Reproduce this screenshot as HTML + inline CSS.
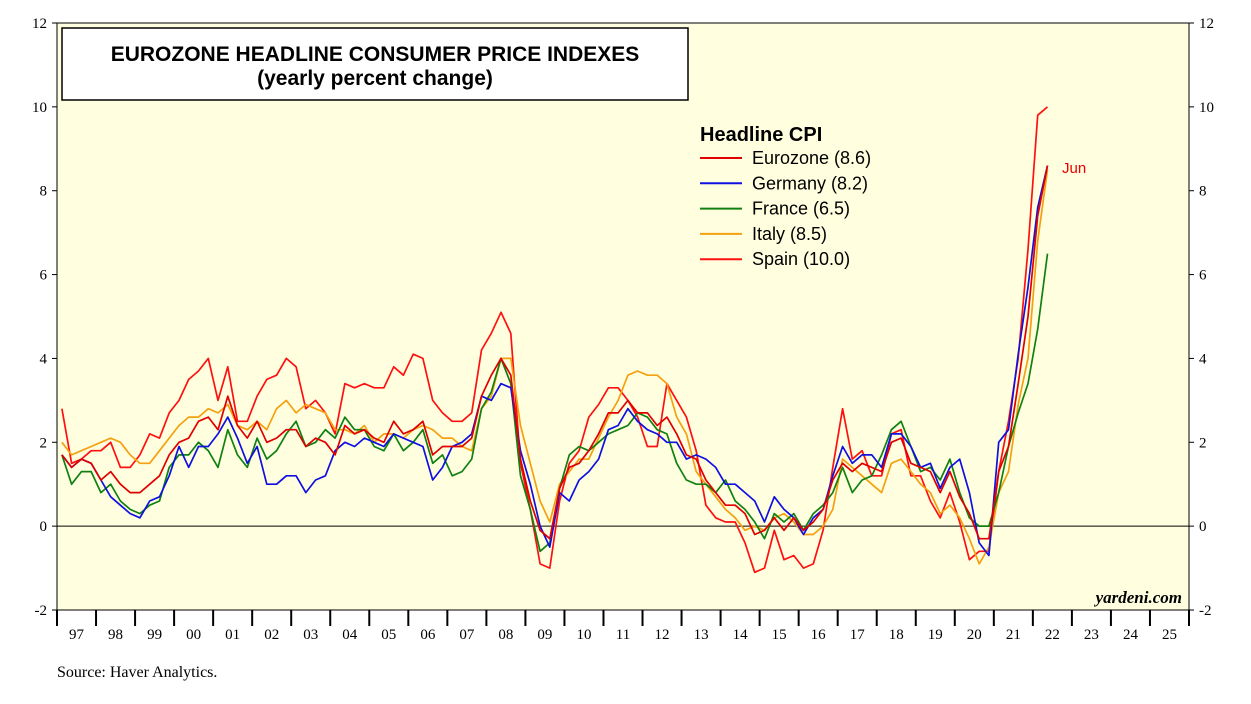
<!DOCTYPE html>
<html><head><meta charset="utf-8"><style>
body{margin:0;background:#fff;width:1251px;height:699px;overflow:hidden}
svg text{font-family:"Liberation Serif",serif}
</style></head><body>
<svg id="c" width="1251" height="699">
<rect x="57" y="23" width="1132" height="587" fill="#ffffe0" stroke="#000" stroke-width="1"/>
<g id="axes"></g>
<g id="series"></g>
<g>
<rect x="62" y="28" width="626" height="72" fill="#fff" stroke="#000" stroke-width="1.5"/>
<text x="375" y="61" text-anchor="middle" style="font-family:'Liberation Sans',sans-serif;font-weight:bold;font-size:21px">EUROZONE HEADLINE CONSUMER PRICE INDEXES</text>
<text x="375" y="85" text-anchor="middle" style="font-family:'Liberation Sans',sans-serif;font-weight:bold;font-size:21px">(yearly percent change)</text>
</g>
<g id="legend">
<text x="700" y="141" style="font-family:'Liberation Sans',sans-serif;font-weight:bold;font-size:20px">Headline CPI</text>
</g>
<text x="1062" y="173" fill="#e00" style="font-family:'Liberation Sans',sans-serif;font-size:15px">Jun</text>
<text x="1182" y="603" text-anchor="end" style="font-style:italic;font-weight:bold;font-size:17px">yardeni.com</text>
<text x="57" y="677" style="font-size:16px">Source: Haver Analytics.</text>
</svg>
<script>
const yTicks=[-2,0,2,4,6,8,10,12];
const years=["97","98","99","00","01","02","03","04","05","06","07","08","09","10","11","12","13","14","15","16","17","18","19","20","21","22","23","24","25"];
const seriesNames=["Eurozone (8.6)","Germany (8.2)","France (6.5)","Italy (8.5)","Spain (10.0)"];
const seriesColors=["#e00000","#1010e0","#108010","#f5a010","#ff1010"];
const eurozone=[1.7,1.4,1.6,1.5,1.1,1.3,1.0,0.8,0.8,1.0,1.2,1.7,2.0,2.1,2.5,2.6,2.3,3.1,2.4,2.1,2.5,2.0,2.1,2.3,2.3,1.9,2.1,2.0,1.7,2.4,2.2,2.3,2.1,2.0,2.5,2.2,2.3,2.5,1.7,1.9,1.9,1.9,2.1,3.1,3.6,4.0,3.6,1.6,0.6,-0.1,-0.3,0.9,1.4,1.5,1.8,2.2,2.7,2.7,3.0,2.7,2.7,2.4,2.6,2.2,1.7,1.6,1.1,0.8,0.5,0.5,0.3,-0.2,-0.1,0.2,-0.1,0.2,-0.1,0.1,0.4,1.1,1.5,1.3,1.5,1.4,1.3,2.0,2.1,1.5,1.4,1.3,0.8,1.3,0.7,0.3,-0.3,-0.3,1.3,1.9,3.4,5.0,7.4,8.6];
const germany=[1.7,1.4,1.6,1.5,1.1,0.7,0.5,0.3,0.2,0.6,0.7,1.2,1.9,1.4,1.9,1.9,2.2,2.6,2.1,1.5,1.9,1.0,1.0,1.2,1.2,0.8,1.1,1.2,1.8,2.0,1.9,2.1,2.0,1.9,2.2,2.1,2.0,1.9,1.1,1.4,1.9,2.0,2.2,3.1,3.0,3.4,3.3,1.8,1.0,0.0,-0.5,0.8,0.6,1.1,1.3,1.6,2.3,2.4,2.8,2.5,2.3,2.2,2.0,2.0,1.6,1.7,1.6,1.4,1.0,1.0,0.8,0.6,0.1,0.7,0.4,0.2,-0.2,0.2,0.4,1.2,1.9,1.5,1.7,1.7,1.4,2.2,2.2,1.9,1.4,1.5,0.9,1.4,1.6,0.8,-0.4,-0.7,2.0,2.3,4.1,5.7,7.6,8.6];
const france=[1.7,1.0,1.3,1.3,0.8,1.0,0.6,0.4,0.3,0.5,0.6,1.4,1.7,1.7,2.0,1.8,1.4,2.3,1.7,1.4,2.1,1.6,1.8,2.2,2.5,1.9,2.0,2.3,2.1,2.6,2.3,2.3,1.9,1.8,2.2,1.8,2.0,2.3,1.5,1.7,1.2,1.3,1.6,2.8,3.2,4.0,3.4,1.2,0.4,-0.6,-0.4,0.9,1.7,1.9,1.8,2.0,2.2,2.3,2.4,2.7,2.6,2.3,2.2,1.5,1.1,1.0,1.0,0.8,1.1,0.6,0.4,0.1,-0.3,0.3,0.1,0.3,-0.1,0.3,0.5,0.8,1.4,0.8,1.1,1.2,1.7,2.3,2.5,1.9,1.3,1.4,1.1,1.6,0.8,0.2,0.0,0.0,0.8,1.9,2.7,3.4,4.7,6.5];
const italy=[2.0,1.7,1.8,1.9,2.0,2.1,2.0,1.7,1.5,1.5,1.8,2.1,2.4,2.6,2.6,2.8,2.7,2.9,2.4,2.3,2.5,2.3,2.8,3.0,2.7,2.9,2.8,2.7,2.3,2.3,2.2,2.4,2.0,2.2,2.2,2.1,2.3,2.4,2.3,2.1,2.1,1.9,1.8,2.8,3.1,4.0,4.0,2.4,1.5,0.6,0.1,1.0,1.3,1.6,1.6,2.1,2.6,3.0,3.6,3.7,3.6,3.6,3.4,2.6,2.2,1.3,1.0,0.7,0.4,0.2,-0.1,0.0,-0.1,0.2,0.3,0.1,-0.2,-0.2,0.0,0.4,1.6,1.4,1.2,1.0,0.8,1.5,1.6,1.3,1.0,0.8,0.3,0.5,0.2,-0.3,-0.9,-0.5,0.8,1.3,2.9,4.0,6.8,8.5];
const spain=[2.8,1.5,1.6,1.8,1.8,2.0,1.4,1.4,1.7,2.2,2.1,2.7,3.0,3.5,3.7,4.0,3.0,3.8,2.5,2.5,3.1,3.5,3.6,4.0,3.8,2.8,3.0,2.7,2.2,3.4,3.3,3.4,3.3,3.3,3.8,3.6,4.1,4.0,3.0,2.7,2.5,2.5,2.7,4.2,4.6,5.1,4.6,1.5,0.4,-0.9,-1.0,0.6,1.5,1.8,2.6,2.9,3.3,3.3,3.0,2.6,1.9,1.9,3.4,3.0,2.6,1.8,0.5,0.2,0.1,0.1,-0.4,-1.1,-1.0,-0.1,-0.8,-0.7,-1.0,-0.9,-0.1,1.4,2.8,1.6,1.8,1.2,1.2,2.2,2.3,1.2,1.2,0.6,0.2,0.8,0.1,-0.8,-0.6,-0.6,1.3,2.5,4.0,6.6,9.8,10.0];
const allSeries=[eurozone,germany,france,italy,spain];

const NS="http://www.w3.org/2000/svg";
const L=57,R=1189,T=23,B=610,yMin=-2,yMax=12,startYear=1997,nYears=29;
const yS=v=>B-(v-yMin)/(yMax-yMin)*(B-T);
const slot=(R-L)/nYears;
const xS=t=>L+(t-startYear)*slot;
function mk(tag,attrs,parent){const e=document.createElementNS(NS,tag);for(const k in attrs)e.setAttribute(k,attrs[k]);parent.appendChild(e);return e;}
const axes=document.getElementById('axes');
yTicks.forEach(v=>{
  const y=yS(v);
  if(v===0){const ln=mk('line',{x1:L,x2:R,y1:y,y2:y,stroke:'#000','stroke-width':1},axes);
    
    }
  mk('line',{x1:L-5,x2:L,y1:y,y2:y,stroke:'#000'},axes);
  mk('line',{x1:R,x2:R+5,y1:y,y2:y,stroke:'#000'},axes);
  const t1=mk('text',{x:L-10,y:y+5,'text-anchor':'end','font-size':15},axes);t1.textContent=v;
  
  
  const t2=mk('text',{x:R+10,y:y+5,'font-size':15},axes);t2.textContent=v;
  
  
});
for(let i=0;i<=nYears;i++){
  const x0=xS(startYear+i);
  mk('line',{x1:x0,x2:x0,y1:B,y2:B+16,stroke:'#000','stroke-width':2},axes);
}
years.forEach((lab,i)=>{
  const x0=xS(startYear+i);
  const t=mk('text',{x:x0+slot/2,y:B+29,'text-anchor':'middle','font-size':15},axes);t.textContent=lab;
  
  
});
const sg=document.getElementById('series');
const order=[4,3,2,1,0];
const snames=['eurozone-line','germany-line','france-line','italy-line','spain-line'];
order.forEach(si=>{
  const d=allSeries[si].map((v,i)=>{const t=startYear+(i+0.5)/4;return (i?'L':'M')+xS(t).toFixed(1)+','+yS(v).toFixed(1);}).join('');
  const p=mk('path',{d:d,fill:'none',stroke:seriesColors[si],'stroke-width':1.7,'stroke-linejoin':'round'},sg);
  
  
});
const lg=document.getElementById('legend');
seriesNames.forEach((n,i)=>{
  const y=158+i*25.3;
  mk('line',{x1:700,x2:742,y1:y,y2:y,stroke:seriesColors[i],'stroke-width':2},lg);
  const t=mk('text',{x:752,y:y+6,style:"font-family:'Liberation Sans',sans-serif;font-size:18px"},lg);t.textContent=n;
  
  
});
</script>
</body></html>
